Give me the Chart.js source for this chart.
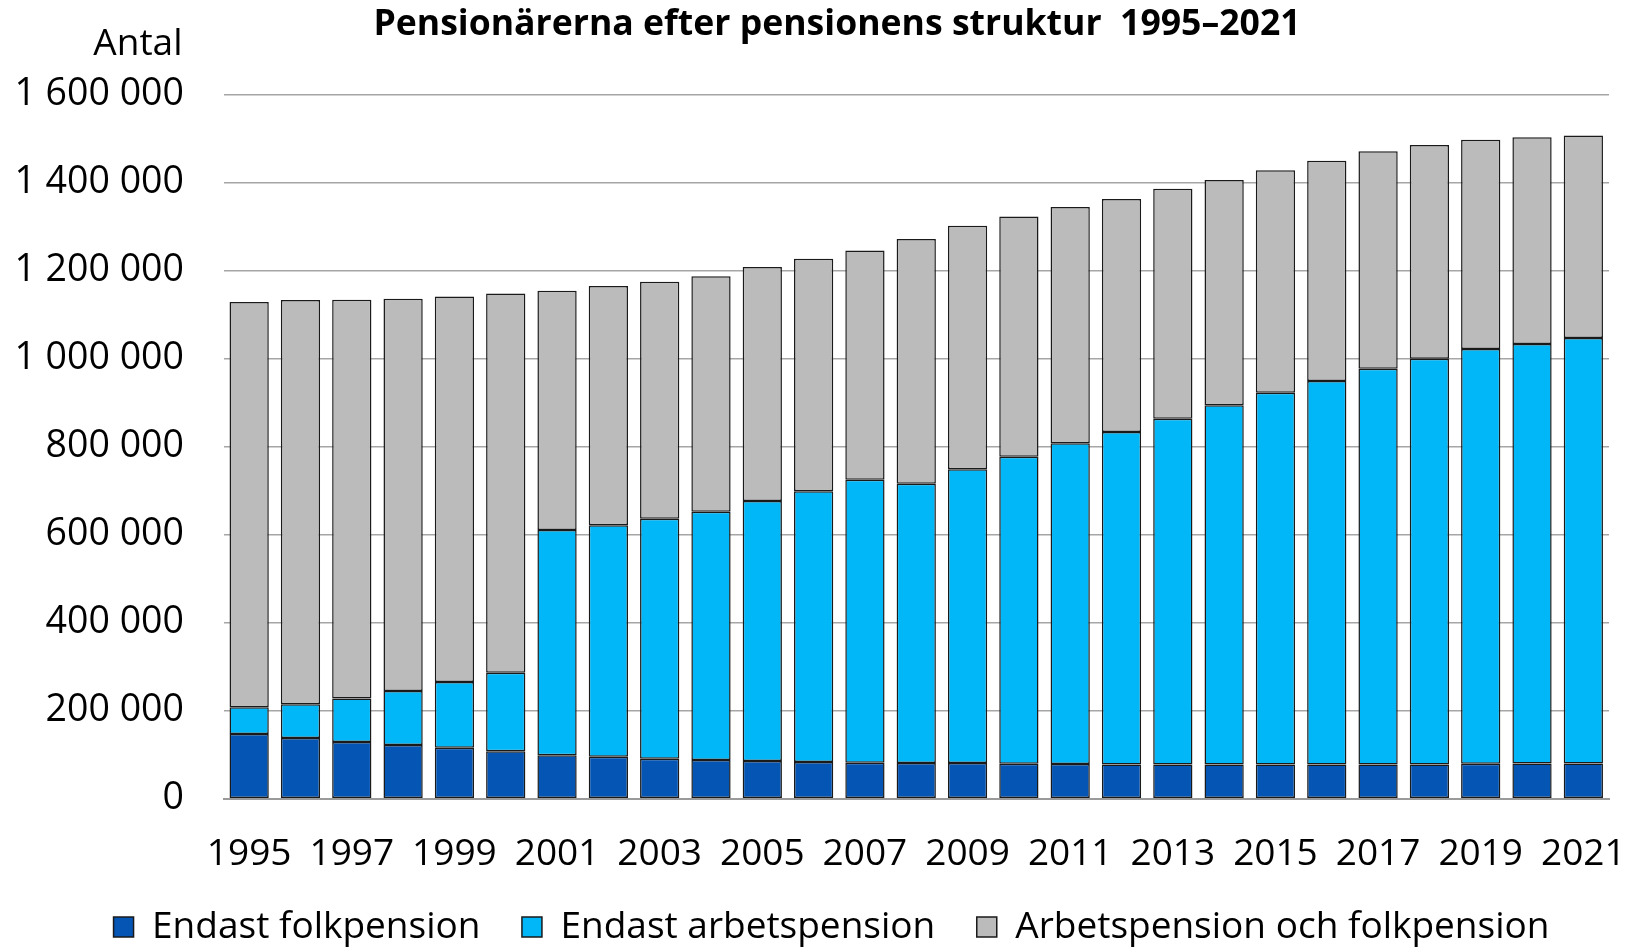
<!DOCTYPE html>
<html>
<head>
<meta charset="utf-8">
<script src="https://cdn.jsdelivr.net/npm/chart.js@4/dist/chart.umd.min.js"></script>
<style>
html,body{margin:0;padding:0;background:#ffffff;overflow:hidden}
#wrap{width:1630px;height:947px;position:relative}
</style>
</head>
<body>
<div id="wrap"><canvas id="c" width="1630" height="947"></canvas></div>
<script>
const years = ['1995','1996','1997','1998','1999','2000','2001','2002','2003','2004','2005','2006','2007','2008','2009','2010','2011','2012','2013','2014','2015','2016','2017','2018','2019','2020','2021'];
const endastFolkpension = [147000,138000,129000,122000,116000,108000,99000,95500,91000,88000,85700,83400,81800,81000,81000,79500,78800,78000,78000,78000,78000,78000,78000,78000,79500,80000,80000];
const endastArbetspension = [60700,76500,99000,122800,149000,178000,511700,525900,545400,564300,590900,615200,643200,634900,667600,697800,728900,755400,785600,816100,844700,871300,899300,922000,942500,953400,967000];
const arbetsOchFolkpension = [921100,918900,905900,891600,876600,862200,543800,543800,538600,535000,531800,528400,521000,556100,553700,545700,537300,529600,522900,511900,505800,500700,494200,486000,475500,469900,460500];
const seriesNames = ['Endast folkpension','Endast arbetspension','Arbetspension och folkpension'];
const titleText = 'Pensionärerna efter pensionens struktur  1995–2021';
const yAxisLabel = 'Antal';
const yMax = 1600000;
const yStep = 200000;

const FONT = '"Open Sans", "DejaVu Sans", sans-serif';
const LEG_PAD = 41.5;
const LEG_FONT = 37;

function fmt(v){ return String(v).replace(/\B(?=(\d{3})+(?!\d))/g, ' '); }

const antalPlugin = {
  id: 'antal',
  afterDraw(chart){
    const ctx = chart.ctx;
    ctx.save();
    ctx.font = '37px ' + FONT;
    ctx.fillStyle = '#000';
    ctx.textAlign = 'right';
    ctx.textBaseline = 'middle';
    ctx.fillText(yAxisLabel, chart.chartArea.left - 41, 44);
    ctx.restore();
  }
};

// place title and legend blocks where the original has them
const placePlugin = {
  id: 'place',
  afterLayout(chart){
    const t = chart.titleBlock;
    if (t){ const dx = 837 - (t.left + t.right) / 2; t.left += dx; t.right += dx; }
    const l = chart.legend;
    if (l){
      const dx = 831.5 - (l.left + l.right) / 2; l.left += dx; l.right += dx;
      l.top = 927 - LEG_FONT / 2 - LEG_PAD;
      l.bottom = chart.height;
      l.height = l.bottom - l.top;
    }
  }
};

const common = {borderColor:'#1a1a1a', borderWidth:1.5, borderSkipped:false, barPercentage:0.765, categoryPercentage:1.0};

new Chart(document.getElementById('c'), {
  type: 'bar',
  data: {
    labels: years,
    datasets: [
      Object.assign({label: seriesNames[0], data: endastFolkpension, backgroundColor:'#0455b4'}, common),
      Object.assign({label: seriesNames[1], data: endastArbetspension, backgroundColor:'#02b7f7'}, common),
      Object.assign({label: seriesNames[2], data: arbetsOchFolkpension, backgroundColor:'#bbbbbb'}, common)
    ]
  },
  options: {
    responsive: false,
    animation: false,
    devicePixelRatio: 1,
    layout: {padding: {left: 0, right: 21, top: 0, bottom: 0}},
    plugins: {
      title: {
        display: true,
        text: titleText,
        color: '#000',
        font: {family: FONT, size: 35.6, weight: 'bold'},
        padding: {top: 3, bottom: 49}
      },
      legend: {
        position: 'bottom',
        maxHeight: 68.3,
        labels: {
          color: '#000',
          font: {family: FONT, size: LEG_FONT},
          boxWidth: 20,
          boxHeight: 20,
          padding: LEG_PAD
        }
      },
      tooltip: {enabled: false}
    },
    scales: {
      x: {
        stacked: true,
        grid: {display: false, drawTicks: false},
        border: {display: true, color: '#9a9a9a', width: 2},
        ticks: {
          autoSkip: false, maxRotation: 0, minRotation: 0, padding: 34,
          color: '#000', font: {family: FONT, size: 37},
          callback: function(v, i){ return i % 2 === 0 ? this.getLabelForValue(v) : ''; }
        },
        afterFit(scale){ scale.height = 80; scale.paddingLeft = 0; scale.paddingRight = 0; }
      },
      y: {
        stacked: true,
        min: 0, max: yMax,
        grid: {color: '#a6a6a6', lineWidth: 1.5, drawTicks: false},
        border: {display: false},
        ticks: {
          stepSize: yStep, padding: 39.5,
          color: '#000', font: {family: FONT, size: 37.5},
          callback: v => fmt(v)
        },
        afterFit(scale){ scale.width = 223.5; }
      }
    }
  },
  plugins: [antalPlugin, placePlugin]
});
</script>
</body>
</html>
